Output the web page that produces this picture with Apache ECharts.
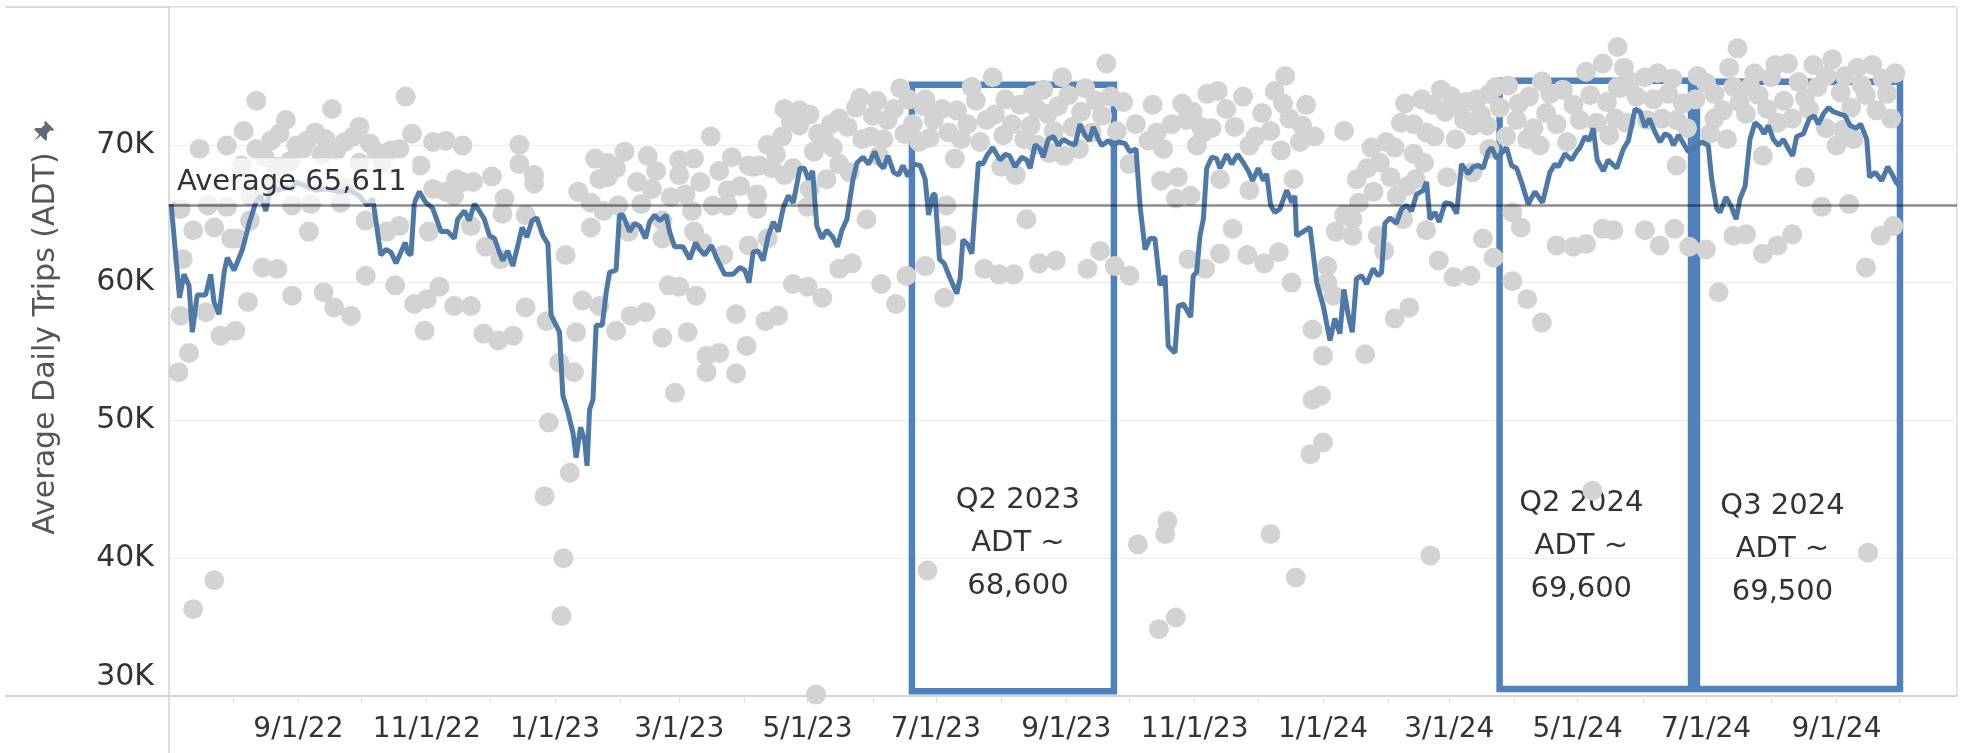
<!DOCTYPE html>
<html>
<head>
<meta charset="utf-8">
<title>Average Daily Trips (ADT)</title>
<script src="https://cdn.jsdelivr.net/npm/echarts@6/dist/echarts.min.js"></script>
<style>
  html, body { margin: 0; padding: 0; background: #fff; }
  #chart { width: 1963px; height: 753px; }
</style>
</head>
<body>
<div id="chart"></div>
<script>
// all day numbers are days since 2022-07-01
const START = Date.UTC(2022, 6, 1);
const DAY = 864e5;

// daily trip counts (grey dots): [day, trips]
const dailyTrips = [
  [42,73200],[113,73500],[78,72600],[56,71800],[36,71000],[91,71300],[15,69700],[28,69950],[49,70300],[70,70900],
  [75,70400],[84,70200],[99,69500],[110,69700],[132,70300],[61,69950],[35,68500],[46,69100],[120,68500],[137,67500],
  [6,65350],[19,65600],[28,65500],[68,65700],[82,65800],[126,66800],[132,66600],[12,63800],[22,64000],[33,63200],
  [39,64500],[67,63700],[94,64500],[104,63700],[124,63700],[7,61700],[45,61100],[52,61000],[94,60500],[108,59800],
  [129,59700],[6,57600],[18,57850],[38,58600],[59,59050],[74,59300],[79,58200],[87,57600],[117,58450],[123,58800],
  [136,58300],[122,56500],[25,56150],[32,56500],[10,54900],[5,53500],[42,69700],[64,69700],[91,68700],[106,69600],
  [50,67000],[85,66900],[59,65600],[39,66300],[30,63200],[110,64100],[12,36300],[22,38400],
  [53,70800],[58,68800],[66,70300],[73,69300],[80,69600],[88,70600],[96,70100],[102,68800],[116,70800],[126,70200],[52,68400],
  [140,69950],[167,70000],[167,68600],[174,67800],[174,67200],[154,67700],[140,67300],[145,67300],[136,66300],[160,66100],
  [159,65000],[170,64900],[144,64100],[151,62600],[158,61700],[189,62000],[201,64000],[203,69000],[209,68700],[205,67500],
  [195,66600],[209,67650],[201,65800],[207,65200],[214,65600],[219,63700],[223,67300],[228,69200],[230,66800],[235,64500],
  [235,63200],[243,68900],[250,69000],[243,67800],[258,70600],[249,65200],[259,65600],[266,66700],[272,67000],[276,68500],
  [250,63700],[254,62900],[266,65600],[276,62700],[264,62000],[144,58300],[150,56300],[157,55800],[164,56150],[170,58200],
  [180,57200],[186,54200],[193,53500],[197,58700],[194,56400],[205,58300],[213,56500],[220,57600],[227,57850],[235,56000],
  [238,59800],[243,59700],[251,59050],[247,56400],[256,54700],[262,54900],[256,53500],[270,53400],[270,57700],[275,55400],
  [241,52000],[181,49850],[191,46200],[179,44500],[188,40000],[187,35800],
  [213,68300],[217,69500],[225,65700],[232,68100],[239,66200],[246,66400],[253,67300],[262,68100],[268,69100],
  [348,74100],[293,72600],[300,72500],[300,71400],[292,70600],[327,72700],[315,71500],[319,71900],[335,72100],[342,71800],
  [354,71500],[364,71800],[312,70400],[330,70400],[340,70400],[357,70200],[307,69500],[319,68600],[338,69200],[278,68400],
  [287,68300],[293,67800],[297,68300],[313,67500],[324,68000],[280,66400],[305,66800],[304,65500],[280,65350],[332,64600],
  [370,65600],[285,63200],[370,63400],[319,61000],[325,61400],[360,61200],[351,60500],[297,59900],[304,59700],[311,58900],
  [339,59900],[346,58450],[369,58900],[388,61000],[395,60600],[402,60600],[408,64600],[414,61400],[284,57200],[290,57600],
  [375,72500],[384,73200],[392,74900],[398,73300],[380,71500],[389,71800],[405,72900],[410,71400],[377,70400],[386,70200],
  [397,70700],[407,70400],[374,69000],[396,68400],[403,67800],[413,70000],[281,68500],[361,39100],[308,30100],
  [296,71700],[305,72200],[309,70800],[323,71300],[329,73400],[334,70600],[337,73200],[345,72600],[350,70800],[352,73300],
  [359,72800],[362,70500],[316,69800],[285,70000],[289,69300],
  [360,73300],[368,72600],[371,70900],[382,74200],[393,72200],[401,71500],[411,73600],[416,74000],[421,71000],[423,72800],
  [428,73600],[434,72400],[436,74100],[439,70900],[444,72100],[448,73500],[451,71000],[433,69700],[419,69400],
  [446,75900],[425,74900],[531,75000],[499,73900],[494,73700],[468,72900],[482,73000],[530,73000],[454,73100],[441,73200],
  [413,72600],[418,72250],[460,71500],[484,71800],[491,71300],[496,71200],[539,71400],[524,71000],[517,70600],[430,71300],
  [489,69950],[466,70300],[473,69700],[514,69950],[529,69600],[538,70200],[426,69200],[457,68600],[472,67400],[480,67650],
  [500,67500],[535,67500],[514,66700],[479,66100],[486,66300],[506,63900],[422,61600],[437,61000],[443,62300],[450,61200],
  [457,60500],[485,61700],[493,61000],[500,62100],[513,62000],[521,61400],[528,62200],[534,60000],[544,56600],[549,54700],
  [544,51500],[543,47550],[549,48400],[551,60000],[551,61200],[461,41000],[474,41750],[475,42700],[471,34850],[479,35700],
  [524,41750],[536,38600],
  [477,71500],[487,72400],[492,70900],[503,72600],[507,71300],[511,73500],[520,72300],[526,73900],[533,71900],[541,72900],
  [545,70600],[470,70900],
  [559,71000],[572,69800],[565,67500],[576,68700],[573,66600],[586,71600],[592,71500],[601,72900],[607,72400],[613,72700],
  [617,73100],[622,73300],[628,73700],[633,72700],[602,70600],[612,70400],[620,71400],[627,71400],[592,69350],[581,67650],
  [593,67500],[608,67650],[620,68000],[628,69700],[559,64900],[563,64600],[555,63700],[563,63400],[575,63400],[587,64600],
  [598,63800],[625,63200],[630,61800],[604,61600],[611,60400],[619,60500],[554,59050],[583,57400],[590,58200],[569,54800],
  [548,51800],[639,65100],[643,64000],[639,60100],[646,58800],[653,57100],[660,62700],[668,62600],[674,62800],[682,63900],
  [687,63800],[647,73500],[657,73700],[649,71200],[660,71500],[668,72900],[674,75300],[682,75900],[689,77100],[684,73100],
  [646,70400],[652,69950],[665,70200],[679,71600],[689,74200],[685,70700],[677,44900],[600,40200],
  [566,65800],[570,68300],[579,70200],[584,66300],[589,67000],[597,68700],[578,62300],
  [596,73300],[588,73000],[605,74000],[610,73500],[616,71800],[624,72200],[631,74200],[598,70900],[583,69800],
  [637,74300],[641,71800],[653,74600],[663,74000],[671,71800],[676,73600],[695,74600],[702,74900],[708,75200],[715,74800],
  [720,73000],[703,71800],[722,71200],[642,73000],[655,72300],[636,70600],
  [692,75600],[690,74100],[698,73500],[706,73300],[713,73700],[688,71900],[693,71600],[710,71900],[717,71800],[727,75000],
  [726,73300],[733,70800],[739,72500],[741,70400],[744,74200],[752,74200],[754,75200],[750,72250],[760,72600],[768,73200],
  [772,71900],[775,74550],[782,75800],[788,75000],[795,73800],[803,75600],[807,73600],[815,74800],[812,72500],[819,71900],
  [788,71200],[793,69950],[801,70400],[758,69200],[717,68500],[778,67650],[786,65500],[799,65700],[702,63800],[709,62700],
  [716,63900],[723,62600],[731,62400],[744,63400],[750,63500],[758,62100],[765,62700],[772,63500],[814,63400],[820,64100],
  [737,59300],[807,61100],[746,77000],[808,40400],
  [731,74500],[735,73700],[742,75600],[747,73100],[756,73600],[762,74900],[765,71600],[770,75900],[778,73400],[784,74200],
  [791,76200],[797,75000],[800,72700],[805,74300],[810,75800],[817,73700],[821,75200],[735,71900],[780,72600],[796,71100],
  [764,75800]
];

// rolling average (blue line): [day, trips]
const rollingAvg = [
  [1.5,65700],[4.4,60750],[5.5,58900],[7.6,60600],[10,59800],[11.6,56400],[13.9,59100],[17.9,59100],[20.3,60600],[21.9,58600],
  [24.3,57700],[26.7,60750],[28.2,61800],[31.4,60900],[35.4,62400],[38.6,64300],[41.7,65800],[44.1,66300],[46.5,65200],[48.9,66900],
  [51.2,66700],[56,66900],[59.2,66800],[60.8,67300],[65.5,67000],[70.3,66700],[75,66800],[81.4,66600],[86.9,66700],[90.9,66300],
  [94.9,65600],[97.3,66100],[101.2,62000],[103.6,62400],[106,62200],[108.4,61400],[110.7,62200],[112.8,62900],[113.9,62200],[115.5,62000],
  [117.1,65800],[119.5,66600],[122.6,65800],[125.8,65400],[129.8,63700],[133,63700],[136.1,63200],[137.7,64600],[140.9,65200],[143.2,64500],
  [145.6,65700],[148,65200],[150.4,64600],[152.8,63400],[155.2,63200],[157.5,62200],[159.1,61600],[161.5,62300],[163.9,61200],[166.3,62700],
  [168.3,64000],[170.6,63300],[173.1,64500],[175.3,64700],[178.2,63400],[180.6,62800],[182.1,57600],[184.5,56900],[186.1,56400],[187.7,51800],
  [190.1,50600],[192.5,49100],[194,47300],[196.1,49500],[198,48600],[199.2,46700],[200.4,50800],[202,51500],[203.5,56900],[206.4,56900],
  [208.3,59300],[209.9,60750],[213,60900],[214.6,64900],[216.2,64900],[219.4,63700],[221.8,64300],[224.2,64100],[227,63200],[228.9,64400],
  [231.3,64900],[233.7,64500],[236.8,64900],[238.4,63700],[240.8,62600],[244.8,62600],[248,61700],[250.8,62900],[252.7,62400],[255.1,62000],
  [258.3,62700],[260.7,61800],[264.6,60600],[268.6,60600],[271.8,61100],[274.2,60900],[276.2,60000],[278.1,62200],[280.5,62300],[282.9,61600],
  [285.3,63400],[287.7,64400],[290.1,63700],[292.4,65400],[294.8,66300],[297.2,65800],[300.4,68300],[302.4,68300],[304.4,67500],[306.4,68100],
  [308.4,64100],[310.8,63200],[313.1,63800],[316,63300],[318.2,62600],[320.3,63800],[322.7,64600],[325.6,67500],[327.5,68700],[330.3,69100],
  [333,68600],[335.9,69500],[338.2,68600],[340.1,68300],[342.2,69200],[344.9,68000],[347.2,67800],[349.3,68500],[351.7,67700],[354.4,68600],
  [357.5,68500],[359.9,67500],[361.5,64900],[363.6,66400],[364.6,66400],[366.7,61700],[368.9,61400],[371.8,60300],[374.9,59200],[376.5,60300],
  [377.8,63100],[380,62800],[382.1,62100],[383.7,65600],[385.2,68700],[387.3,68600],[389.2,69200],[392,69800],[393.9,69300],[395.5,68900],
  [397.9,69300],[400,69200],[402.6,68400],[405.8,69100],[408.2,68900],[409.8,68300],[412.1,70000],[414.5,69700],[416,69100],[418.4,70400],
  [420.8,70600],[423.2,69950],[425.5,70400],[428.7,70100],[431.1,70000],[433.5,71500],[435.8,70700],[437.9,70300],[439.8,71300],[442.2,70400],
  [443.8,69950],[446.9,70300],[449.3,69950],[451.7,70200],[454.9,70100],[457.2,69500],[460.1,69700],[462,65600],[464.4,62400],[466.7,63200],
  [469.1,63200],[471.5,59800],[473.9,60500],[475.4,55400],[478.6,54900],[480.2,58300],[482.6,58450],[486.1,57500],[487.3,60500],[488.9,60750],
  [490.5,63400],[492.1,64600],[493.7,68300],[496.1,69100],[498.4,69000],[500,68300],[503.2,69300],[505.6,68600],[508.4,69300],[511.1,68700],
  [513.5,68100],[515.5,67400],[518.2,68300],[520.6,67400],[522.2,67900],[524.1,65600],[526.1,65100],[528.5,65350],[531.7,66700],[534.1,65800],
  [535.6,66300],[536.4,63400],[539.6,63700],[542.8,64000],[546,60000],[549.1,58300],[552.3,55800],[554.6,57400],[557,56300],[558.9,59500],
  [561,57600],[562.9,56400],[564.9,60300],[567.3,60500],[569.7,59900],[572.8,61000],[575.2,60500],[576.8,60750],[578.4,64300],[580.8,64700],
  [583.9,64300],[586.3,65350],[588.7,65600],[591.1,65200],[593.4,66400],[596.6,66700],[598.2,67300],[599.8,64600],[602.2,65100],[604.2,64400],
  [607,65800],[610.1,65700],[612.5,65000],[614.8,68600],[618,67900],[620.4,68400],[622.8,68500],[625.1,68300],[627.5,69500],[629.1,69800],
  [631.5,69000],[636.2,69800],[638.6,68500],[641,68300],[643.3,67300],[646.5,65700],[649.7,66600],[653.3,65800],[656.8,68000],[659.2,68600],
  [660.8,68400],[664,69350],[667.1,68900],[669.5,69500],[671.1,69800],[673.5,70600],[675.5,70300],[677.4,71200],[679.3,68900],[682.2,68100],
  [684.5,68900],[688.6,68300],[691.7,69700],[694.1,70300],[697.3,72600],[699.7,72400],[702,71300],[704.1,71900],[706.8,70900],[709.2,70200],
  [711.5,70800],[713.9,70600],[715.5,69950],[717.9,70700],[720.3,70100],[722.6,69500],[729,70200],[732.1,69950],[733.7,67500],[736.1,65350],
  [737.7,65100],[740.5,66200],[742.8,65600],[745.3,64600],[747.2,66100],[749.6,67000],[751.9,70400],[754.3,71600],[756.7,71300],[758.6,70800],
  [760.6,71400],[763,70400],[765.4,69950],[767.8,70400],[770.2,69700],[772.2,69200],[774.1,70600],[777.3,70800],[780.1,71900],[782.4,72100],
  [784.4,71500],[786.8,72250],[789.2,72700],[791.5,72400],[794.4,72250],[797.1,72100],[799.5,71400],[802.3,71200],[804.5,71500],[807.4,70400],
  [808.7,67650],[811.4,68000],[814.5,67400],[817.4,68400],[819.3,67900],[821.3,67300],[823,67000]
];

const overallAverage = 65611;

// x axis labels
const dateLabels = ['2022-09-01','2022-11-01','2023-01-01','2023-03-01','2023-05-01','2023-07-01','2023-09-01',
                    '2023-11-01','2024-01-01','2024-03-01','2024-05-01','2024-07-01','2024-09-01'];

// quarter call-outs
const quarterNames = ['Q2 2023', 'Q2 2024', 'Q3 2024'];
const quarterAdt = [68600, 69600, 69500];
const quarterFrom = [353.6, 632.9, 726.7];
const quarterTo = [449.6, 723.9, 823.2];
const quarterTop = [74360, 74650, 74580];
const quarterBottom = [30350, 30500, 30500];
const quarterLabelOffset = [[5, 156], [-14, 162], [-16, 164]];

const toTime = d => START + d * DAY;
const FONT = 'DejaVu Sans';

let monthTicks = [];
for (let m = 1; m <= 27; m++) monthTicks.push(Date.UTC(2022, 6 + m, 1));
const labelTicks = dateLabels.map(s => Date.parse(s + 'T00:00:00Z'));

const chart = echarts.init(document.getElementById('chart'));

const option = {
  animation: false,
  backgroundColor: '#fff',
  textStyle: { fontFamily: FONT },
  grid: { left: 169, right: 6, top: 7, bottom: 57 },
  xAxis: {
    // plain numeric axis holding UTC timestamps, so the month ticks can be placed exactly
    type: 'value',
    min: toTime(0.5),
    max: toTime(850.3),
    axisLine: { show: true, lineStyle: { color: '#d4d4d4', width: 2 } },
    axisTick: { show: true, customValues: monthTicks, length: 7, lineStyle: { color: '#e2e2e2', width: 1 } },
    axisLabel: {
      customValues: labelTicks,
      color: '#333', fontSize: 28, fontFamily: FONT, margin: 20,
      formatter: v => {
        const d = new Date(v);
        return (d.getUTCMonth() + 1) + '/' + d.getUTCDate() + '/' + String(d.getUTCFullYear()).slice(2);
      }
    },
    splitLine: { show: false }
  },
  yAxis: {
    type: 'value',
    min: 30000, max: 80000, interval: 10000,
    name: 'Average Daily Trips (ADT)',
    nameLocation: 'middle', nameRotate: 90, nameGap: 108,
    nameTextStyle: { color: '#555', fontSize: 30, fontFamily: FONT, padding: [0, 0, 0, 16] },
    axisLine: { show: true, lineStyle: { color: '#d0d0d0', width: 1.5 } },
    axisTick: { show: false },
    axisLabel: {
      showMaxLabel: false, margin: 15, color: '#333', fontSize: 30, fontFamily: FONT,
      formatter: v => v === 30000 ? '{low|30K}' : (v / 1000) + 'K',
      rich: { low: { color: '#333', fontSize: 30, fontFamily: FONT, padding: [0, 0, 38, 0] } }
    },
    splitLine: { lineStyle: { color: '#ececec', width: 1 } }
  },
  series: [
    {
      name: 'Daily trips',
      type: 'scatter',
      silent: true,
      z: 1,
      symbolSize: 20,
      itemStyle: { color: '#d3d3d3', opacity: 1 },
      data: dailyTrips.map(p => [toTime(p[0]), p[1]])
    },
    {
      name: 'Rolling average',
      type: 'line',
      silent: true,
      z: 3,
      showSymbol: false,
      lineStyle: { color: '#4e79a7', width: 5 },
      data: rollingAvg.map(p => [toTime(p[0]), p[1]])
    },
    {
      name: 'Average',
      type: 'line',
      z: 4,
      data: [],
      markLine: {
        silent: true,
        symbol: 'none',
        lineStyle: { color: 'rgba(0,0,0,0.45)', width: 2.5, type: 'solid' },
        label: {
          show: true,
          position: 'insideStartTop',
          distance: [6, 2],
          formatter: p => 'Average ' + p.value.toLocaleString('en-US'),
          color: '#333', fontSize: 29, fontFamily: FONT,
          backgroundColor: 'rgba(255,255,255,0.7)',
          padding: [10, 6, 6, 2]
        },
        data: [{ yAxis: overallAverage }]
      }
    },
    {
      name: 'Quarters',
      type: 'line',
      z: 6,
      data: [],
      markArea: {
        silent: true,
        itemStyle: { color: 'rgba(0,0,0,0)', borderColor: '#4f81bd', borderWidth: 6.5 },
        label: {
          show: true, position: 'inside', align: 'center',
          color: '#333', fontSize: 29, lineHeight: 43, fontFamily: FONT
        },
        data: quarterNames.map((q, i) => [
          {
            name: q + '\nADT ~\n' + quarterAdt[i].toLocaleString('en-US'),
            xAxis: toTime(quarterFrom[i]), yAxis: quarterTop[i],
            label: { offset: quarterLabelOffset[i] }
          },
          { xAxis: toTime(quarterTo[i]), yAxis: quarterBottom[i] }
        ])
      }
    }
  ],
  graphic: [
    { type: 'line', silent: true, shape: { x1: 5, y1: 7, x2: 1957, y2: 7 }, style: { stroke: '#dcdcdc', lineWidth: 2 } },
    { type: 'line', silent: true, shape: { x1: 5, y1: 696, x2: 169, y2: 696 }, style: { stroke: '#d4d4d4', lineWidth: 2 } },
    { type: 'line', silent: true, shape: { x1: 169, y1: 696, x2: 169, y2: 753 }, style: { stroke: '#d0d0d0', lineWidth: 1.5 } },
    { type: 'line', silent: true, shape: { x1: 1957, y1: 7, x2: 1957, y2: 696 }, style: { stroke: '#dcdcdc', lineWidth: 1.5 } },
    {
      // pin next to the axis title
      type: 'polygon', silent: true, x: 42, y: 133, rotation: -Math.PI / 4,
      shape: { points: [[-6,-11],[6,-11],[6,-9],[4,-8],[4,-3],[8,1],[8,3],[1,3],[0,12],[-1,3],[-8,3],[-8,1],[-4,-3],[-4,-8],[-6,-9]] },
      style: { fill: '#5f6a79' }
    }
  ]
};

chart.setOption(option);
</script>
</body>
</html>
